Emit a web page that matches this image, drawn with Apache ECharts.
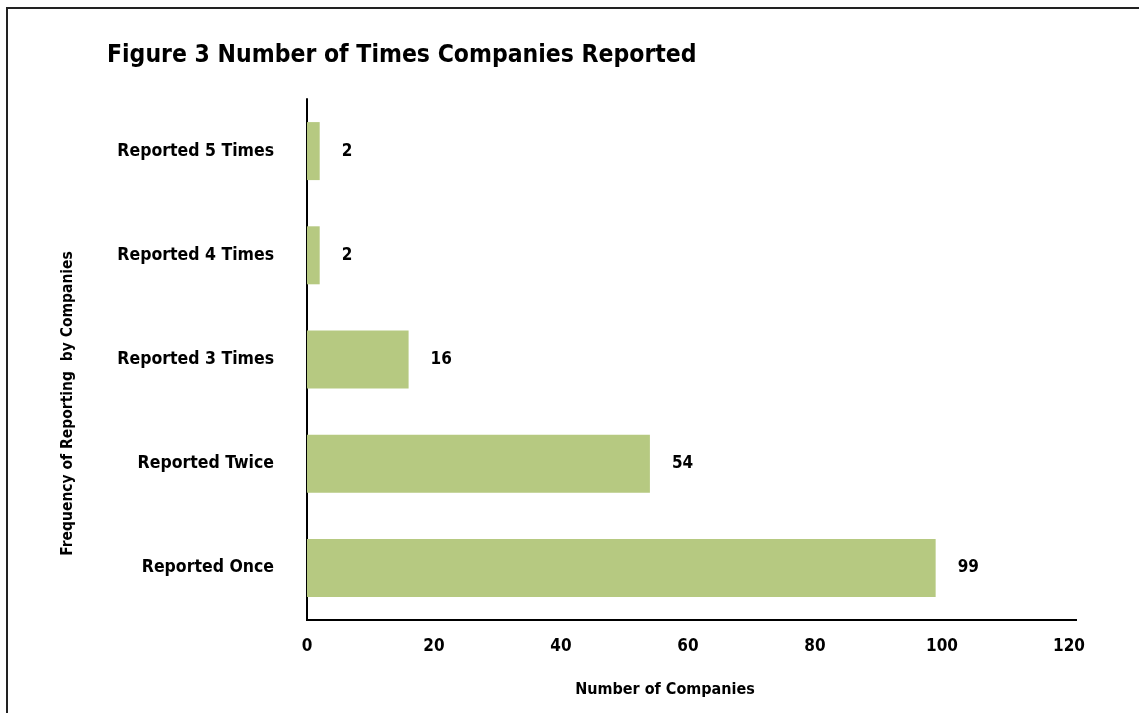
<!DOCTYPE html>
<html>
<head>
<meta charset="utf-8">
<script src="https://cdn.jsdelivr.net/npm/echarts@6/dist/echarts.min.js"></script>
<style>
  html, body { margin: 0; padding: 0; background: #fff; }
  #chart { width: 1139px; height: 713px; }
</style>
</head>
<body>
<div id="chart"></div>
<script>
// Reporting frequency categories, listed bottom to top
const categories = ['Reported Once', 'Reported Twice', 'Reported 3 Times', 'Reported 4 Times', 'Reported 5 Times'];
// Number of companies in each category
const companyCounts = [99, 54, 16, 2, 2];
// Value axis ticks
const xTicks = [0, 20, 40, 60, 80, 100, 120];

const FONT = '"DejaVu Sans Condensed", "DejaVu Sans", sans-serif';

const chart = echarts.init(document.getElementById('chart'), null, { renderer: 'canvas' });

chart.setOption({
  backgroundColor: '#ffffff',
  animation: false,
  title: {
    text: 'Figure 3 Number of Times Companies Reported',
    left: 102,
    top: 38,
    textStyle: { fontFamily: FONT, fontWeight: 'bold', fontSize: 24.5, color: '#000' }
  },
  graphic: [
    {
      // outer frame, open towards the right and bottom edges
      type: 'rect',
      shape: { x: 7, y: 8, width: 1200, height: 800 },
      style: { fill: 'none', stroke: '#222', lineWidth: 2 },
      silent: true
    },
    {
      // baseline runs a little past the last tick
      type: 'line',
      shape: { x1: 306, y1: 620, x2: 1077, y2: 620 },
      style: { stroke: '#000', lineWidth: 2 },
      silent: true
    }
  ],
  grid: { left: 307, right: 70, top: 99, bottom: 93, containLabel: false },
  xAxis: {
    type: 'value',
    min: xTicks[0],
    max: xTicks[xTicks.length - 1],
    interval: xTicks[1] - xTicks[0],
    name: 'Number of Companies',
    nameLocation: 'middle',
    nameGap: 62,
    nameTextStyle: { fontFamily: FONT, fontWeight: 'bold', fontSize: 16, color: '#000', padding: [0, 46, 0, 0] },
    axisLine: { show: false },
    axisTick: { show: false },
    splitLine: { show: false },
    axisLabel: {
      margin: 18,
      fontFamily: FONT, fontWeight: 'bold', fontSize: 17, color: '#000',
      formatter: v => (xTicks.includes(v) ? String(v) : '')
    }
  },
  yAxis: {
    type: 'category',
    data: categories,
    name: 'Frequency of Reporting  by Companies',
    nameLocation: 'middle',
    nameGap: 231,
    nameRotate: 90,
    nameTextStyle: { fontFamily: FONT, fontWeight: 'bold', fontSize: 15.5, color: '#000', padding: [0, 88, 0, 0] },
    axisLine: { show: true, lineStyle: { color: '#000', width: 2 } },
    axisTick: { show: false },
    splitLine: { show: false },
    axisLabel: {
      margin: 33,
      fontFamily: FONT, fontWeight: 'bold', fontSize: 17.5, color: '#000'
    }
  },
  series: [
    {
      type: 'bar',
      data: companyCounts,
      barWidth: 58,
      itemStyle: { color: '#b6c981' },
      label: {
        show: true,
        position: 'right',
        distance: 22,
        fontFamily: FONT, fontWeight: 'bold', fontSize: 17, color: '#000'
      }
    }
  ]
});
</script>
</body>
</html>
